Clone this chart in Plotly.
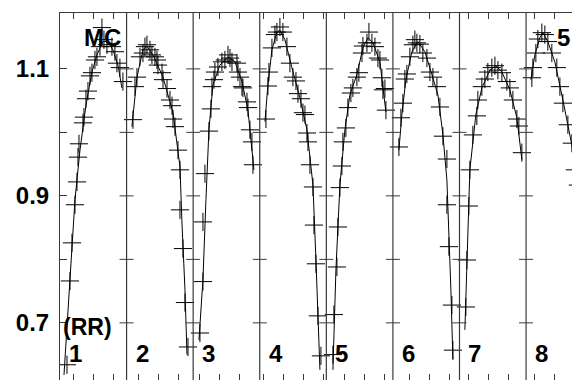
import plotly.graph_objects as go

# position inside each cycle panel (0..1) and relative flux of the observations
obs_x = [
    [0.105, 0.150, 0.180, 0.225, 0.255, 0.270, 0.285, 0.345, 0.360, 0.390, 0.420, 0.450, 0.480,
     0.525, 0.555, 0.600, 0.630, 0.660, 0.705, 0.780, 0.825, 0.855, 0.900, 0.945],
    [0.096, 0.126, 0.156, 0.201, 0.246, 0.276, 0.306, 0.351, 0.381, 0.426, 0.456, 0.471, 0.532,
     0.547, 0.607, 0.652, 0.682, 0.697, 0.727, 0.772, 0.802, 0.802, 0.847, 0.877, 0.922],
    [0.102, 0.147, 0.147, 0.177, 0.237, 0.267, 0.282, 0.312, 0.327, 0.372, 0.432, 0.477, 0.523,
     0.553, 0.583, 0.658, 0.673, 0.703, 0.733, 0.748, 0.808, 0.823, 0.853, 0.883, 0.898],
    [0.093, 0.123, 0.138, 0.183, 0.228, 0.258, 0.303, 0.348, 0.408, 0.453, 0.498, 0.544, 0.574,
     0.619, 0.649, 0.679, 0.709, 0.724, 0.754, 0.799, 0.814, 0.844, 0.874, 0.919],
    [0.099, 0.114, 0.159, 0.174, 0.204, 0.234, 0.249, 0.294, 0.324, 0.369, 0.399, 0.459, 0.489,
     0.535, 0.550, 0.610, 0.640, 0.685, 0.730, 0.775, 0.805, 0.835, 0.850, 0.880, 0.895],
    [0.090, 0.120, 0.150, 0.180, 0.210, 0.255, 0.300, 0.330, 0.360, 0.405, 0.450, 0.511, 0.556,
     0.601, 0.661, 0.706, 0.751, 0.811, 0.811, 0.841, 0.886, 0.901],
    [0.096, 0.111, 0.141, 0.156, 0.201, 0.261, 0.276, 0.336, 0.381, 0.426, 0.486, 0.532, 0.577,
     0.637, 0.712, 0.757, 0.802, 0.862, 0.892, 0.937],
    [0.087, 0.102, 0.147, 0.177, 0.237, 0.282, 0.327, 0.387, 0.462, 0.508, 0.553, 0.628, 0.688,
     0.733, 0.778, 0.838, 0.883, 0.913],
]
obs_y = [
    [0.634, 0.766, 0.826, 0.886, 0.922, 0.961, 0.982, 1.015, 1.024, 1.053, 1.065, 1.089, 1.094,
     1.114, 1.119, 1.135, 1.165, 1.146, 1.138, 1.135, 1.127, 1.109, 1.102, 1.080],
    [1.020, 1.072, 1.087, 1.119, 1.125, 1.135, 1.138, 1.130, 1.122, 1.119, 1.114, 1.106, 1.094,
     1.083, 1.069, 1.051, 1.042, 1.021, 1.009, 0.972, 0.941, 0.878, 0.817, 0.732, 0.662],
    [0.684, 0.765, 0.859, 0.935, 1.002, 1.037, 1.072, 1.083, 1.095, 1.103, 1.111, 1.114, 1.122,
     1.117, 1.111, 1.109, 1.095, 1.087, 1.072, 1.070, 1.048, 1.039, 1.004, 0.985, 0.949],
    [1.021, 1.073, 1.095, 1.133, 1.154, 1.158, 1.166, 1.158, 1.135, 1.109, 1.087, 1.081, 1.061,
     1.053, 1.031, 1.028, 0.999, 0.985, 0.949, 0.914, 0.854, 0.793, 0.711, 0.648],
    [0.650, 0.713, 0.788, 0.851, 0.913, 0.947, 0.985, 1.007, 1.039, 1.062, 1.070, 1.087, 1.094,
     1.125, 1.136, 1.141, 1.158, 1.141, 1.135, 1.117, 1.114, 1.086, 1.067, 1.069, 1.035],
    [0.977, 1.023, 1.046, 1.084, 1.092, 1.119, 1.138, 1.146, 1.141, 1.139, 1.125, 1.117, 1.095,
     1.087, 1.072, 1.040, 0.994, 0.958, 0.886, 0.820, 0.728, 0.657],
    [0.725, 0.799, 0.884, 0.941, 0.996, 1.026, 1.051, 1.072, 1.084, 1.095, 1.102, 1.105, 1.098,
     1.094, 1.080, 1.070, 1.051, 1.021, 1.010, 0.968],
    [1.086, 1.102, 1.125, 1.147, 1.157, 1.154, 1.143, 1.125, 1.102, 1.072, 1.046, 1.012, 0.983,
     0.941, 0.917, 0.854, 0.790, 0.702],
]

# mean light curve drawn through each cycle
fit_x = [
    [0.060, 0.150, 0.225, 0.300, 0.390, 0.480, 0.555, 0.645, 0.720, 0.795, 0.870, 0.930],
    [0.080, 0.156, 0.246, 0.306, 0.396, 0.547, 0.697, 0.802, 0.832, 0.877, 0.907],
    [0.087, 0.147, 0.192, 0.237, 0.297, 0.402, 0.523, 0.628, 0.733, 0.823, 0.913],
    [0.078, 0.123, 0.183, 0.258, 0.303, 0.378, 0.483, 0.604, 0.709, 0.799, 0.844, 0.904],
    [0.099, 0.144, 0.204, 0.279, 0.354, 0.459, 0.550, 0.625, 0.700, 0.805, 0.895],
    [0.090, 0.135, 0.195, 0.285, 0.375, 0.480, 0.586, 0.676, 0.751, 0.811, 0.871, 0.901],
    [0.081, 0.111, 0.156, 0.246, 0.336, 0.456, 0.547, 0.637, 0.757, 0.862, 0.937],
    [0.072, 0.132, 0.207, 0.252, 0.327, 0.432, 0.553, 0.688, 0.778, 0.853, 0.928],
]
fit_y = [
    [0.618, 0.768, 0.894, 0.972, 1.043, 1.095, 1.122, 1.143, 1.143, 1.130, 1.106, 1.070],
    [1.009, 1.087, 1.130, 1.136, 1.122, 1.087, 1.031, 0.946, 0.857, 0.752, 0.650],
    [0.673, 0.768, 0.894, 1.004, 1.075, 1.106, 1.119, 1.111, 1.080, 1.035, 0.941],
    [1.017, 1.075, 1.130, 1.158, 1.161, 1.146, 1.102, 1.054, 1.004, 0.917, 0.799, 0.626],
    [0.626, 0.783, 0.917, 1.004, 1.059, 1.091, 1.133, 1.149, 1.141, 1.111, 1.032],
    [0.972, 1.028, 1.083, 1.127, 1.143, 1.127, 1.091, 1.059, 0.996, 0.925, 0.752, 0.642],
    [0.689, 0.799, 0.941, 1.028, 1.070, 1.098, 1.105, 1.095, 1.067, 1.023, 0.957],
    [1.083, 1.122, 1.149, 1.157, 1.143, 1.111, 1.051, 0.980, 0.917, 0.831, 0.689],
]

panel_labels = ["1", "2", "3", "4", "5", "6", "7", "8"]
# first time tick inside each panel (ticks every 0.3 panel)
first_tick = [0.21, 0.18, 0.09, 0.05, 0.28, 0.25, 0.14, 0.12]
y_ticks = [0.7, 0.8, 0.9, 1.0, 1.1]
y_ticktext = ["0.7", "", "0.9", "", "1.1"]

FONT = "Liberation Sans, Arial, sans-serif"
AX = "#3a3a3a"

fig = go.Figure()
for i in range(len(obs_x)):
    fig.add_trace(go.Scatter(x=[i + v for v in fit_x[i]], y=fit_y[i], mode="lines",
                             line=dict(color="black", width=1), hoverinfo="skip"))
    fig.add_trace(go.Scatter(x=[i + v for v in obs_x[i]], y=obs_y[i], mode="markers",
                             marker=dict(symbol="cross-thin", size=13,
                                         line=dict(color="black", width=1))))

xticks = []
for i, o in enumerate(first_tick):
    t = o
    while t < 0.97:
        xticks.append(i + t)
        t += 0.3

shapes = []
for k in range(1, 8):
    shapes.append(dict(type="line", xref="x", yref="paper", x0=k, x1=k, y0=0, y1=1,
                       line=dict(color=AX, width=1.2)))
    for yv in y_ticks:
        shapes.append(dict(type="line", xref="x", yref="y", xsizemode="pixel", xanchor=k,
                           x0=-7, x1=7, y0=yv, y1=yv, line=dict(color=AX, width=1)))

lab_font = dict(family=FONT, size=24, color="black", weight="bold")
annotations = []
for i, lab in enumerate(panel_labels):
    annotations.append(dict(x=i, y=0.651, xref="x", yref="y", text=lab, showarrow=False,
                            xanchor="left", yanchor="middle", xshift=7, font=lab_font))
annotations.append(dict(x=0.33, y=1.150, xref="x", yref="y", text="MC", showarrow=False,
                        xanchor="left", yanchor="middle", font=lab_font))
annotations.append(dict(x=0.02, y=0.693, xref="x", yref="y", text="(RR)", showarrow=False,
                        xanchor="left", yanchor="middle", font=dict(lab_font, size=23)))
annotations.append(dict(x=7.44, y=1.150, xref="x", yref="y", text="5", showarrow=False,
                        xanchor="left", yanchor="middle", font=lab_font))

# the page adds an 8px body margin, so the margins are trimmed by that amount
fig.update_layout(
    width=580, height=380,
    margin=dict(l=52, r=8, t=5, b=8),
    paper_bgcolor="white", plot_bgcolor="white",
    showlegend=False,
    shapes=shapes,
    annotations=annotations,
    xaxis=dict(range=[0, 7.81], showgrid=False, zeroline=False, showline=True,
               linecolor=AX, linewidth=1, mirror="ticks", ticks="inside", ticklen=6,
               tickcolor=AX, tickvals=xticks, showticklabels=False),
    yaxis=dict(range=[0.610, 1.188], showgrid=False, zeroline=False, showline=True,
               linecolor=AX, linewidth=1, ticks="inside", ticklen=7, tickcolor=AX,
               tickvals=y_ticks, ticktext=y_ticktext, ticklabelstandoff=5,
               tickfont=dict(family=FONT, size=24, color="black", weight="bold")),
)

fig.write_html("out.html")
